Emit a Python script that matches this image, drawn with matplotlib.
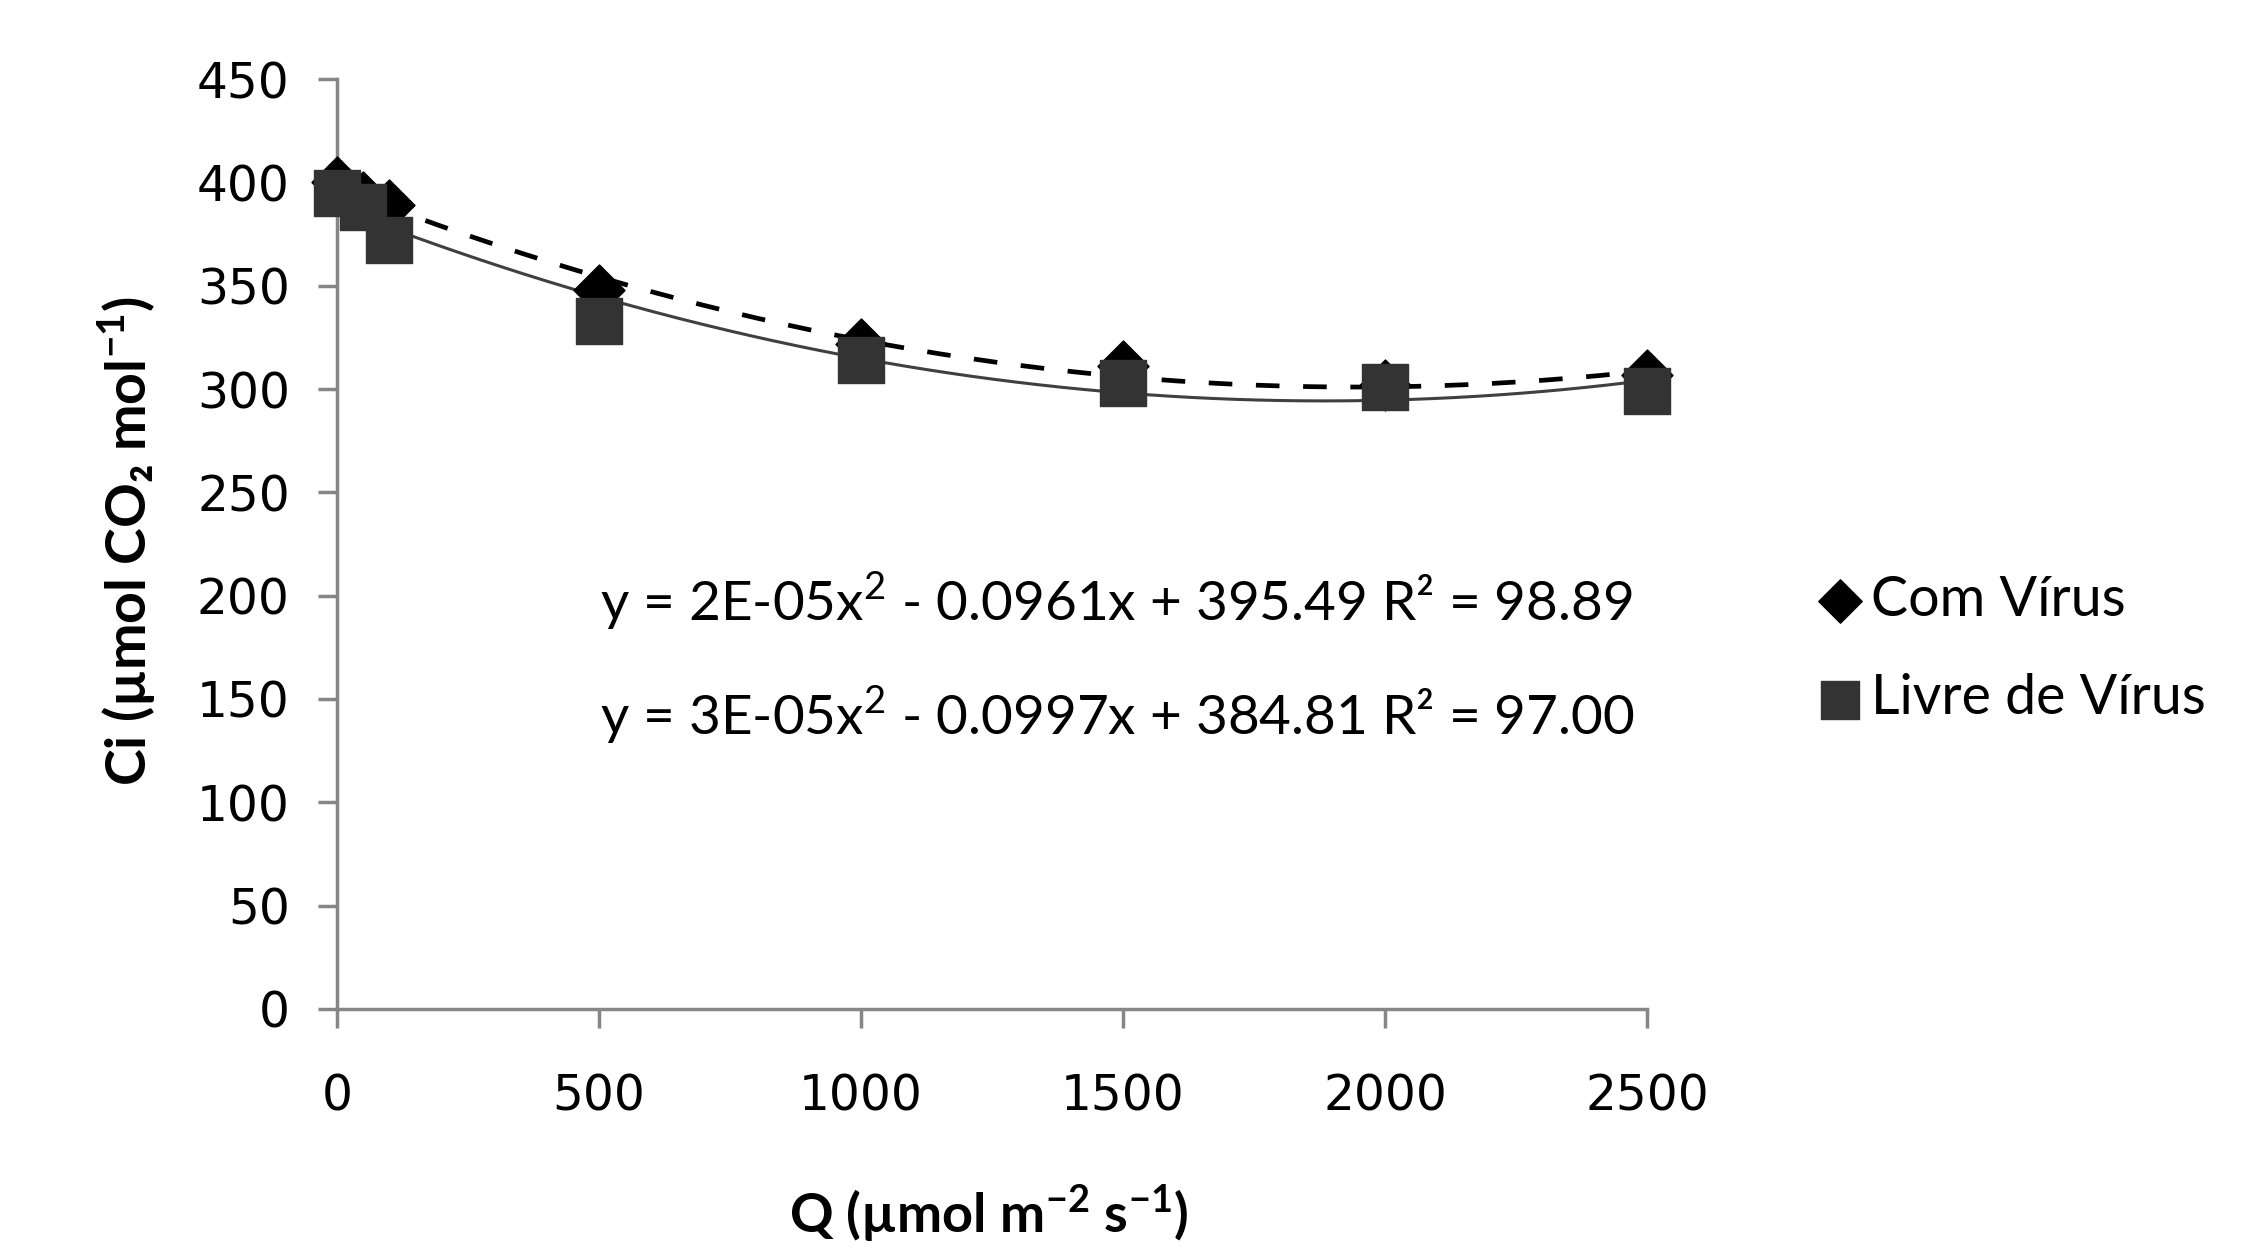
import matplotlib
matplotlib.use("Agg")
import matplotlib.pyplot as plt
import numpy as np

# light intensity Q and internal CO2 Ci
q = [0, 50, 100, 500, 1000, 1500, 2000, 2500]
ci_com = [400, 393, 389, 348, 322, 311, 302, 307]
ci_livre = [395, 388, 372, 333, 314, 303, 301, 299]

eq_com = "y = 2E-05x$^{2}$ - 0.0961x + 395.49 R² = 98.89"
eq_livre = "y = 3E-05x$^{2}$ - 0.0997x + 384.81 R² = 97.00"

plt.rcParams["font.family"] = ["DejaVu Sans"]
plt.rcParams["mathtext.fontset"] = "custom"
plt.rcParams["mathtext.rm"] = "Lato"
plt.rcParams["mathtext.bf"] = "Lato:bold"

fig = plt.figure(figsize=(22.51, 12.49), dpi=100)
ax = fig.add_axes([0.1497, 0.1922, 0.582, 0.7445])

# quadratic trend lines
xx = np.linspace(0, 2500, 300)
p_com = np.polyfit(q, ci_com, 2)
p_liv = np.polyfit(q, ci_livre, 2)
ax.plot(xx, np.polyval(p_liv, xx), color="#404040", lw=2.2, zorder=2)
ax.plot(xx, np.polyval(p_com, xx), color="black", lw=3.4, ls=(0, (5, 5)), zorder=2)

h1 = ax.scatter(q, ci_com, marker="D", s=30**2 * 0.75, color="black", zorder=3, label="Com Vírus")
h2 = ax.scatter(q, ci_livre, marker="s", s=33**2, color="#333333", zorder=4, label="Livre de Vírus")

ax.set_xlim(0, 2500)
ax.set_ylim(0, 450)
ax.set_xticks(range(0, 2501, 500))
ax.set_yticks(range(0, 451, 50))
for s in ("top", "right"):
    ax.spines[s].set_visible(False)
for s in ("left", "bottom"):
    ax.spines[s].set_color("#868686")
    ax.spines[s].set_linewidth(2.5)
ax.tick_params(axis="both", direction="out", length=14, width=2.5, color="#868686",
               labelsize=35)
ax.tick_params(axis="y", pad=20)
ax.tick_params(axis="x", pad=32)
for c in ax.collections:
    c.set_clip_on(False)

fig.text(0.4390, 0.029, "Q (µmol m$^{\\mathbf{-2}}$ s$^{\\mathbf{-1}}$)", ha="center", va="center",
         fontsize=39, fontweight="bold", family="Lato")
fig.text(0.056, 0.567, "Ci (µmol CO₂ mol$^{\\mathbf{-1}}$)", ha="center", va="center",
         rotation=90, fontsize=40, fontweight="bold", family="Lato")

fig.text(0.2666, 0.519, eq_com, ha="left", va="center", fontsize=39.5, family="Lato")
fig.text(0.2666, 0.428, eq_livre, ha="left", va="center", fontsize=39.5, family="Lato")

leg = ax.legend(handles=[h1, h2], loc="center left", bbox_to_anchor=(0.783, 0.480),
                bbox_transform=fig.transFigure, frameon=False,
                prop={"family": "Lato", "size": 40}, labelspacing=0.85,
                handletextpad=0.05, handlelength=1.0, markerscale=0.85)

fig.savefig("out.png", dpi=100)
